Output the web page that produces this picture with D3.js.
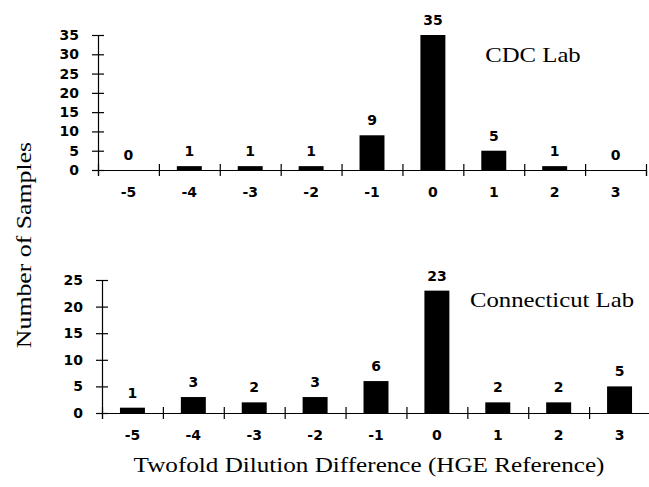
<!DOCTYPE html>
<html lang="en">
<head>
<meta charset="UTF-8">
<title>Twofold Dilution Difference</title>
<script src="https://d3js.org/d3.v7.min.js"></script>
<style>
    body { margin: 0; background: #fff; }
    svg { display: block; }
    .tick-lbl { font-family: 'DejaVu Sans', sans-serif; font-weight: bold; font-size: 14px; fill: #000; }
    .serif { font-family: 'Liberation Serif', 'Times New Roman', serif; font-size: 21.5px; fill: #000; }
</style>
</head>
<body>
<svg width="649" height="487"></svg>
<script>
    // dilution difference categories
    const diffs = ["-5", "-4", "-3", "-2", "-1", "0", "1", "2", "3"];
    // samples per category
    const cdcCounts = [0, 1, 1, 1, 9, 35, 5, 1, 0];
    const ctCounts = [1, 3, 2, 3, 6, 23, 2, 2, 5];
    const cdcTicks = [0, 5, 10, 15, 20, 25, 30, 35];
    const ctTicks = [0, 5, 10, 15, 20, 25];

    const svg = d3.select("svg");

    const panels = [
        { name: "CDC Lab", counts: cdcCounts, ticks: cdcTicks, max: 35,
          left: 98, right: 646, top: 35, bottom: 170, labelX: 533, labelY: 62 },
        { name: "Connecticut Lab", counts: ctCounts, ticks: ctTicks, max: 25,
          left: 102, right: 650, top: 280, bottom: 413, labelX: 552, labelY: 307 }
    ];

    // serif text, stretched a bit wider like the original typeface
    function serifText(transform, str) {
        svg.append("g").attr("transform", transform)
            .append("text").attr("class", "serif")
            .attr("text-anchor", "middle")
            .text(str);
    }

    panels.forEach(p => {
        const g = svg.append("g");
        const x = d3.scaleBand().domain(diffs).range([p.left, p.right])
            .paddingInner(0.59).paddingOuter(0.295);
        const xEdge = d3.scaleLinear().domain([0, diffs.length]).range([p.left, p.right]);
        const y = d3.scaleLinear().domain([0, p.max]).range([p.bottom, p.top]);

        // bars
        g.selectAll("rect.bar").data(p.counts).enter().append("rect")
            .attr("class", "bar")
            .attr("x", (d, i) => x(diffs[i]))
            .attr("width", x.bandwidth())
            .attr("y", d => y(d))
            .attr("height", d => y(0) - y(d))
            .attr("fill", "#000");

        // value labels
        g.selectAll("text.val").data(p.counts).enter().append("text")
            .attr("class", "tick-lbl val")
            .attr("x", (d, i) => x(diffs[i]) + x.bandwidth() / 2)
            .attr("y", d => y(d) - 10)
            .attr("text-anchor", "middle")
            .text(d => d);

        // y axis
        const ya = g.append("g").attr("transform", `translate(${p.left},0)`)
            .call(d3.axisLeft(y).tickValues(p.ticks).tickSize(6).tickPadding(13));
        ya.select(".domain").attr("stroke", "#000").attr("stroke-width", 1.2);
        ya.selectAll(".tick line").attr("x1", -6).attr("x2", 6).attr("stroke-width", 1.2);
        ya.selectAll(".tick text").attr("class", "tick-lbl").attr("font-family", null).attr("font-size", null);

        // x axis line with ticks at band edges
        const xa = g.append("g").attr("transform", `translate(0,${p.bottom})`)
            .call(d3.axisBottom(xEdge).tickValues(d3.range(diffs.length + 1)).tickFormat("").tickSize(6));
        xa.select(".domain").attr("stroke-width", 1.2);
        xa.selectAll(".tick line").attr("y1", -6).attr("y2", 6).attr("stroke-width", 1.2);

        // x category labels
        const xl = g.append("g").attr("transform", `translate(0,${p.bottom})`)
            .call(d3.axisBottom(x).tickSize(0).tickPadding(17));
        xl.select(".domain").remove();
        xl.selectAll(".tick text").attr("class", "tick-lbl").attr("font-family", null).attr("font-size", null);

        serifText(`translate(${p.labelX},${p.labelY}) scale(1.15,1)`, p.name);
    });

    serifText("translate(31,245) rotate(-90) scale(1.2,1)", "Number of Samples");
    serifText("translate(369,472) scale(1.17,1)", "Twofold Dilution Difference (HGE Reference)");
</script>
</body>
</html>
